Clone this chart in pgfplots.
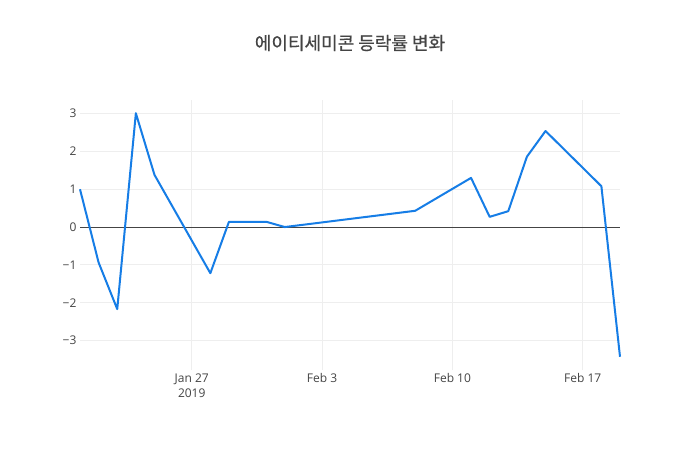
\documentclass[border=0pt]{standalone}
\usepackage{fontspec}
\setmainfont{Open Sans}
\newfontfamily\cjk[FakeBold=0.6]{Noto Sans CJK KR}
\usepackage{pgfplots}
\pgfplotsset{compat=1.18}
\definecolor{linec}{RGB}{22,125,230}
\definecolor{txt}{HTML}{444444}
\definecolor{gridc}{HTML}{EEEEEE}
\begin{document}
\begin{tikzpicture}[x=1pt,y=1pt]
\path[fill=white] (0,0) rectangle (700,450);
\node[text=txt, font=\cjk\fontsize{18}{21}\selectfont] at (350,407) {에이티세미콘 등락률 변화};
\begin{axis}[at={(80pt,80pt)}, anchor=south west, scale only axis,
  width=540pt, height=270pt,
  xmin=21, xmax=50, ymin=-3.78, ymax=3.36,
  axis line style={draw=none}, major tick length=0pt,
  xtick={27,34,41,48},
  xticklabels={{Jan 27\\2019}, {Feb 3}, {Feb 10}, {Feb 17}},
  xticklabel style={align=center, font=\fontsize{12}{15}\selectfont, text=txt},
  ytick={-3,-2,-1,0,1,2,3},
  yticklabels={−3,−2,−1,0,1,2,3},
  yticklabel style={font=\fontsize{12}{15}\selectfont, text=txt},
  grid=major, grid style={gridc, line width=1pt},
  clip=false,
]
\addplot[txt, line width=1pt, forget plot] coordinates {(21,0) (50,0)};
\addplot[linec, line width=2pt, line join=round, mark=none] table {
x y
21 1.00
22 -0.94
23 -2.17
24 3.01
25 1.38
28 -1.22
29 0.14
30 0.14
31 0.14
32 0.00
39 0.43
42 1.30
43 0.27
44 0.42
45 1.86
46 2.54
49 1.08
50 -3.43
};
\end{axis}
\end{tikzpicture}
\end{document}
